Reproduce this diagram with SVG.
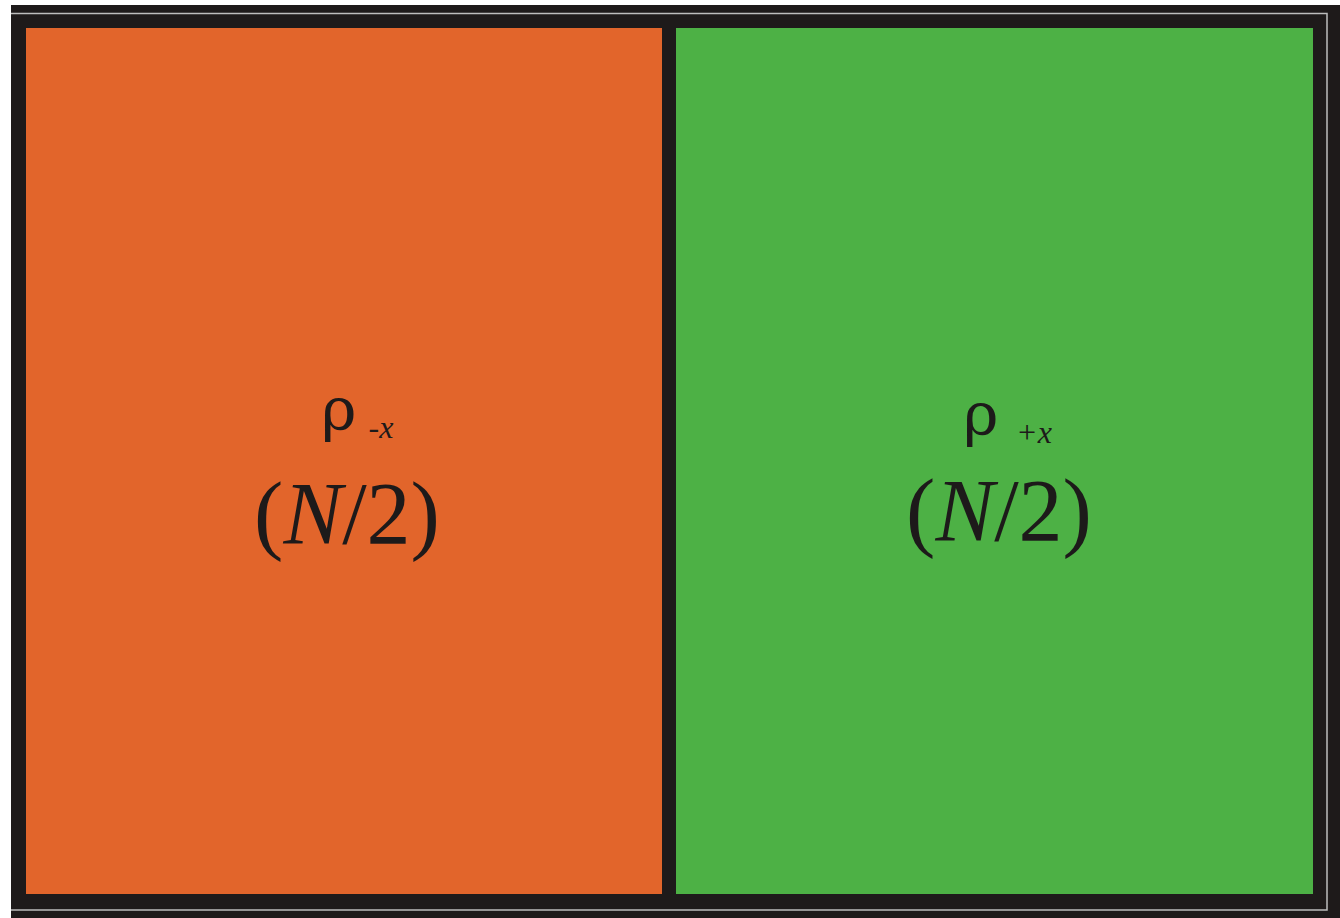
<svg xmlns="http://www.w3.org/2000/svg" width="1340" height="918" viewBox="0 0 1340 918">
<style>
.lbl{font-family:"Liberation Serif","Times New Roman",serif;fill:#1d1a1a}
.rho{font-family:"DejaVu Serif","Liberation Serif",serif;fill:#1d1a1a}
.it{font-style:italic}
</style>
<rect x="0" y="0" width="1340" height="918" fill="#ffffff"/>
<rect x="11" y="5" width="1329" height="913" fill="#1e1a1a"/>
<path d="M11 13.5 H1327 V910 H11" fill="none" stroke="#bdbdbd" stroke-width="1.5"/>
<g id="left">
<rect x="26" y="28" width="636" height="866" fill="#e2652b"/>
<text class="rho" x="339" y="430" font-size="60" text-anchor="middle">ρ</text>
<text class="lbl it" x="381" y="438" font-size="32" text-anchor="middle">-x</text>
<text class="lbl" x="347" y="543" font-size="88" text-anchor="middle">(<tspan class="it">N</tspan>/2)</text>
</g>
<g id="right">
<rect x="676" y="28" width="637" height="866" fill="#4db145"/>
<text class="rho" x="981" y="435" font-size="60" text-anchor="middle">ρ</text>
<text class="lbl it" x="1034" y="443" font-size="32" text-anchor="middle">+x</text>
<text class="lbl" x="999" y="540" font-size="88" text-anchor="middle">(<tspan class="it">N</tspan>/2)</text>
</g>
</svg>
